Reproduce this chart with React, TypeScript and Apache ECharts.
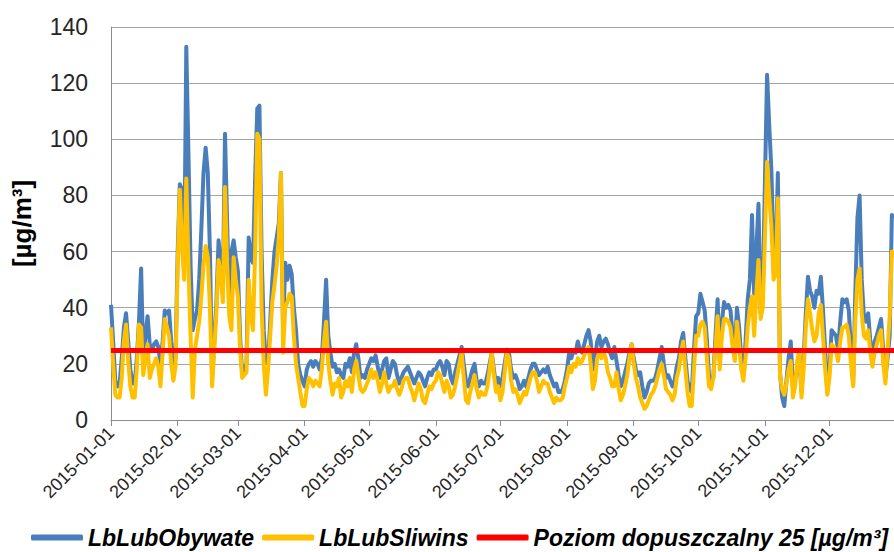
import React, { useEffect, useRef } from "react";
import * as echarts from "echarts";

// ---- Data (daily PM10, 2015) ----
const YEAR = 2015;
const MONTH_DAYS = [31, 28, 31, 30, 31, 30, 31, 31, 30, 31, 30, 31];

const SERIES_NAMES = ["LbLubObywate", "LbLubSliwins", "Poziom dopuszczalny 25 [µg/m³]"];
const LIMIT = 25;
const Y_TICKS = [0, 20, 40, 60, 80, 100, 120, 140];

// LbLubObywate (blue)
const OBY_JAN = [41, 28, 14, 12, 13, 22, 33, 38, 28, 18, 13, 13, 22, 35, 54, 22, 30, 37, 27, 25, 27, 28, 26, 20, 28, 39, 38, 39, 28, 20, 22];
const OBY_FEB = [60, 84, 82, 52, 133, 95, 55, 32, 36, 39, 50, 68, 88, 97, 88, 60, 15, 28, 42, 64, 56, 45, 102, 70, 40, 60, 64, 58];
const OBY_MAR = [53, 30, 16, 18, 20, 65, 58, 56, 86, 111, 112, 60, 32, 21, 20, 35, 50, 60, 65, 70, 88, 32, 56, 50, 55, 52, 40, 32, 20, 16, 14];
const OBY_APR = [12, 18, 20, 21, 19, 21, 20, 18, 22, 35, 50, 30, 24, 19, 20, 17, 18, 16, 15, 20, 19, 22, 17, 24, 27, 22, 15, 16, 15, 18];
const OBY_MAY = [20, 22, 21, 23, 19, 15, 18, 21, 22, 15, 18, 21, 20, 16, 13, 15, 17, 18, 19, 17, 15, 13, 15, 17, 16, 14, 12, 15, 17, 16, 18];
const OBY_JUN = [18, 20, 21, 19, 16, 21, 20, 15, 13, 17, 20, 23, 26, 20, 14, 12, 15, 18, 20, 14, 12, 14, 13, 13, 16, 20, 24, 18, 12, 15];
const OBY_JUL = [12, 15, 20, 25, 24, 18, 15, 16, 14, 11, 12, 14, 12, 15, 18, 20, 20, 18, 16, 17, 18, 17, 19, 16, 14, 12, 13, 10, 10, 11, 14];
const OBY_AUG = [18, 24, 22, 25, 24, 28, 25, 24, 27, 30, 32, 28, 18, 22, 28, 30, 26, 28, 29, 27, 24, 22, 26, 21, 16, 12, 14, 17, 20, 24, 27];
const OBY_SEP = [22, 18, 16, 17, 12, 8, 10, 13, 14, 14, 15, 18, 22, 26, 20, 15, 16, 14, 12, 14, 19, 22, 28, 31, 22, 14, 11, 10, 25, 37];
const OBY_OCT = [38, 45, 42, 39, 29, 16, 14, 15, 30, 43, 21, 35, 42, 40, 41, 39, 30, 24, 40, 33, 22, 16, 28, 43, 50, 73, 45, 60, 77, 38, 45];
const OBY_NOV = [85, 123, 105, 89, 60, 55, 88, 17, 8, 5, 14, 22, 28, 12, 14, 18, 23, 10, 22, 38, 51, 46, 44, 40, 46, 45, 51, 39, 25, 10];
const OBY_DEC = [18, 32, 31, 30, 25, 35, 43, 42, 43, 39, 25, 13, 45, 72, 80, 50, 37, 35, 38, 28, 20, 28, 30, 33, 36, 25, 15, 22, 30, 73, 72];

// LbLubSliwins (yellow)
const SLI_JAN = [33, 20, 9, 8, 8, 15, 28, 34, 21, 12, 8, 8, 18, 34, 33, 16, 22, 27, 15, 18, 20, 22, 19, 12, 24, 36, 33, 30, 20, 14, 19];
const SLI_FEB = [55, 82, 62, 50, 86, 55, 30, 8, 25, 30, 35, 44, 55, 62, 58, 40, 12, 25, 38, 57, 52, 42, 83, 55, 37, 32, 58, 50];
const SLI_MAR = [44, 25, 15, 16, 17, 50, 38, 32, 60, 102, 100, 40, 20, 9, 18, 30, 42, 48, 55, 65, 88, 24, 40, 42, 45, 44, 30, 20, 15, 10, 5];
const SLI_APR = [5, 11, 15, 14, 12, 14, 13, 12, 18, 28, 35, 20, 14, 9, 13, 12, 15, 8, 10, 14, 12, 15, 10, 18, 21, 16, 11, 10, 11, 13];
const SLI_MAY = [15, 18, 15, 17, 14, 10, 13, 17, 13, 10, 12, 12, 14, 11, 9, 11, 14, 15, 15, 12, 10, 7, 10, 13, 11, 7, 6, 9, 12, 11, 13];
const SLI_JUN = [14, 17, 16, 13, 10, 14, 12, 8, 9, 12, 16, 20, 24, 15, 7, 6, 10, 13, 16, 11, 8, 10, 9, 9, 12, 18, 24, 16, 10, 12];
const SLI_JUL = [7, 10, 17, 24, 22, 14, 10, 11, 9, 6, 8, 10, 9, 12, 15, 17, 17, 14, 10, 12, 14, 13, 13, 10, 8, 6, 8, 7, 7, 8, 12];
const SLI_AUG = [15, 19, 17, 20, 19, 22, 20, 21, 23, 25, 26, 20, 11, 14, 22, 24, 22, 24, 22, 17, 15, 12, 12, 17, 11, 7, 9, 12, 16, 22, 27];
const SLI_SEP = [20, 15, 12, 8, 6, 4, 5, 7, 9, 10, 12, 15, 18, 20, 16, 11, 10, 9, 7, 9, 15, 18, 24, 28, 18, 10, 5, 5, 18, 30];
const SLI_OCT = [30, 34, 35, 33, 22, 12, 11, 15, 26, 37, 18, 30, 36, 36, 35, 33, 26, 21, 35, 27, 18, 14, 22, 33, 40, 44, 30, 45, 57, 36, 40];
const SLI_NOV = [65, 92, 80, 69, 50, 52, 79, 16, 11, 9, 13, 18, 21, 8, 12, 21, 25, 8, 18, 33, 43, 38, 32, 28, 30, 38, 41, 30, 18, 9];
const SLI_DEC = [15, 27, 26, 25, 21, 28, 33, 33, 34, 30, 20, 12, 35, 50, 54, 38, 30, 29, 32, 24, 19, 24, 27, 30, 32, 20, 13, 25, 37, 60, 58];

const OBYWATE = [
  ...OBY_JAN, ...OBY_FEB, ...OBY_MAR, ...OBY_APR, ...OBY_MAY, ...OBY_JUN,
  ...OBY_JUL, ...OBY_AUG, ...OBY_SEP, ...OBY_OCT, ...OBY_NOV, ...OBY_DEC,
];
const SLIWINS = [
  ...SLI_JAN, ...SLI_FEB, ...SLI_MAR, ...SLI_APR, ...SLI_MAY, ...SLI_JUN,
  ...SLI_JUL, ...SLI_AUG, ...SLI_SEP, ...SLI_OCT, ...SLI_NOV, ...SLI_DEC,
];

function buildDates(): string[] {
  const out: string[] = [];
  MONTH_DAYS.forEach((n, m) => {
    for (let d = 1; d <= n; d++) {
      out.push(`${YEAR}-${String(m + 1).padStart(2, "0")}-${String(d).padStart(2, "0")}`);
    }
  });
  return out;
}
const DATES = buildDates();

const FONT = "'Liberation Sans', Arial, sans-serif";

export default function App() {
  const ref = useRef<HTMLDivElement>(null);
  useEffect(() => {
    if (!ref.current) return;
    const chart = echarts.init(ref.current, null, { renderer: "svg" });
    const monthStart = (_i: number, v: string) => String(v).endsWith("-01");
    chart.setOption({
      animation: false,
      textStyle: { fontFamily: FONT },
      grid: { left: 111, top: 27, width: 784, height: 393, containLabel: false },
      legend: {
        left: 26,
        top: 521,
        width: 880,
        itemGap: 8,
        itemWidth: 52,
        itemHeight: 6,
        icon: "roundRect",
        data: SERIES_NAMES,
        textStyle: {
          fontFamily: FONT,
          fontSize: 23,
          fontWeight: "bold",
          fontStyle: "italic",
          color: "#000",
        },
      },
      xAxis: {
        type: "category",
        data: DATES,
        boundaryGap: false,
        axisLine: { show: true, lineStyle: { color: "#8c8c8c", width: 1 } },
        axisTick: { show: true, interval: monthStart, length: 6, lineStyle: { color: "#8c8c8c" } },
        axisLabel: {
          interval: monthStart,
          rotate: 45,
          fontSize: 18,
          color: "#262626",
          margin: 10,
          fontFamily: FONT,
        },
        splitLine: { show: false },
      },
      yAxis: {
        type: "value",
        min: Y_TICKS[0],
        max: Y_TICKS[Y_TICKS.length - 1],
        interval: 20,
        name: "[µg/m³]",
        nameLocation: "middle",
        nameGap: 76,
        nameTextStyle: { fontSize: 26, fontWeight: "bold", color: "#000", fontFamily: FONT },
        axisLine: { show: true, lineStyle: { color: "#8c8c8c", width: 1 } },
        axisTick: { show: false },
        axisLabel: { fontSize: 23, color: "#262626", margin: 23, fontFamily: FONT },
        splitLine: { show: true, lineStyle: { color: "#a6a6a6", width: 1 } },
      },
      series: [
        {
          name: SERIES_NAMES[0],
          type: "line",
          data: OBYWATE,
          showSymbol: false,
          color: "#4A7EBB",
          lineStyle: { width: 4, color: "#4A7EBB", join: "round" },
          z: 2,
        },
        {
          name: SERIES_NAMES[1],
          type: "line",
          data: SLIWINS,
          showSymbol: false,
          color: "#FFC000",
          lineStyle: { width: 4, color: "#FFC000", join: "round" },
          z: 3,
        },
        {
          name: SERIES_NAMES[2],
          type: "line",
          data: [],
          showSymbol: false,
          color: "#FF0000",
          lineStyle: { width: 5, color: "#FF0000" },
          z: 4,
          markLine: {
            silent: true,
            symbol: "none",
            label: { show: false },
            lineStyle: { color: "#FF0000", width: 5, type: "solid" },
            data: [{ yAxis: LIMIT }],
          },
        },
      ],
    });
    return () => chart.dispose();
  }, []);
  return (
    <div
      ref={ref}
      style={{ position: "absolute", left: 0, top: 0, width: 894, height: 552 }}
    />
  );
}
